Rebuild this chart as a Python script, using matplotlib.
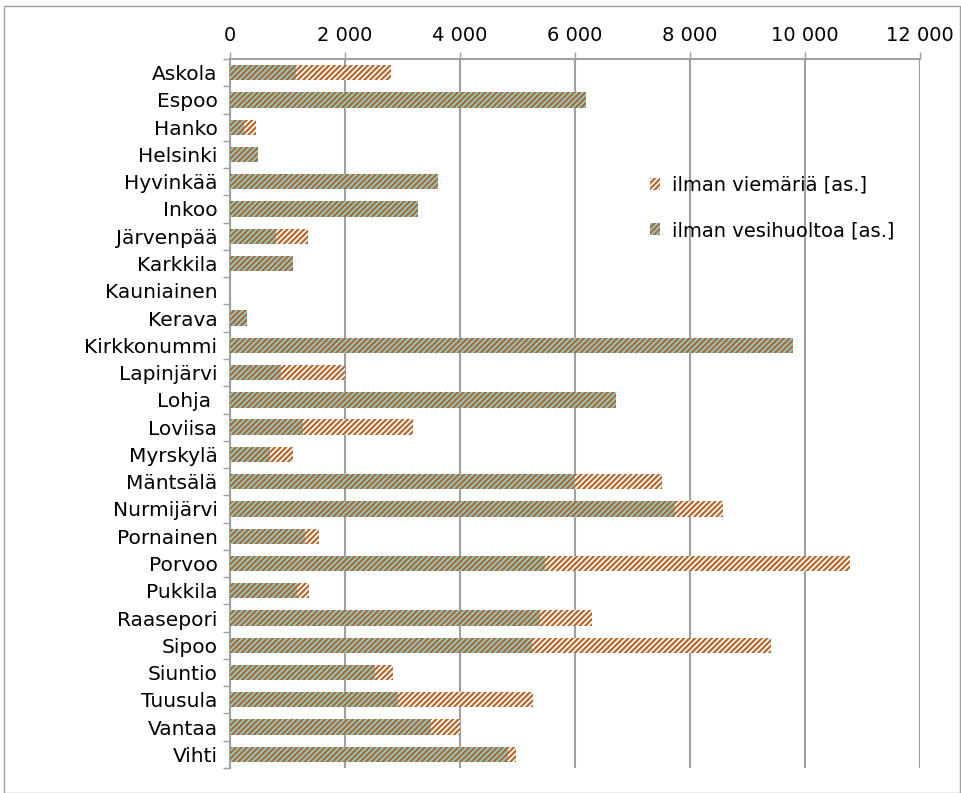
import matplotlib
matplotlib.use('Agg')
import matplotlib.pyplot as plt
import matplotlib.patches as mpatches
from matplotlib.ticker import FuncFormatter, FixedLocator

plt.rcParams['font.family'] = ['DejaVu Sans']
plt.rcParams['hatch.linewidth'] = 1.6

kunnat = ['Askola', 'Espoo', 'Hanko', 'Helsinki', 'Hyvinkää', 'Inkoo', 'Järvenpää',
          'Karkkila', 'Kauniainen', 'Kerava', 'Kirkkonummi', 'Lapinjärvi', 'Lohja ',
          'Loviisa', 'Myrskylä', 'Mäntsälä', 'Nurmijärvi', 'Pornainen', 'Porvoo',
          'Pukkila', 'Raasepori', 'Sipoo', 'Siuntio', 'Tuusula', 'Vantaa', 'Vihti']
ilman_viemaria = [2800, 6200, 450, 490, 3620, 3270, 1360, 1100, 0, 300, 9800, 2000,
                  6710, 3190, 1090, 7510, 8570, 1540, 10780, 1370, 6300, 9410, 2830,
                  5270, 4000, 4970]
ilman_vesihuoltoa = [1150, 6200, 250, 490, 3620, 3270, 800, 1100, 0, 300, 9800, 880,
                     6710, 1270, 690, 6000, 7740, 1300, 5480, 1170, 5390, 5250, 2520,
                     2920, 3500, 4840]
xticks = [0, 2000, 4000, 6000, 8000, 10000, 12000]

ORANGE = '#B5682C'
CYAN = '#80D3D9'
GRID = '#A0A0A0'

W, H = 962, 793
fig = plt.figure(figsize=(W / 100, H / 100), dpi=100)
ax = fig.add_axes([230 / W, 1 - 768 / H, 690 / W, 709 / H])

# outer chart border
fig.patches.append(mpatches.Rectangle((4 / W, 0), 956 / W, 1 - 6 / H,
                                      transform=fig.transFigure, fill=False,
                                      edgecolor='#A0A0A0', lw=1.0))

y = list(range(len(kunnat)))
b1 = ax.barh(y, ilman_viemaria, height=0.56, color='white', edgecolor=ORANGE,
             hatch='//////', lw=0, zorder=3, label='ilman viemäriä [as.]')
b2 = ax.barh(y, ilman_vesihuoltoa, height=0.56, color=CYAN, edgecolor=ORANGE,
             hatch='//////', lw=0, zorder=4, label='ilman vesihuoltoa [as.]')

ax.set_xlim(0, 12000)
ax.set_ylim(len(kunnat) - 0.5, -0.5)
ax.xaxis.tick_top()
ax.set_xticks(xticks)
ax.xaxis.set_major_formatter(FuncFormatter(lambda v, p: f'{int(v):,}'.replace(',', ' ')))
ax.tick_params(axis='x', length=5, color=GRID, width=1, pad=5, labelsize=14)

ax.set_yticks(y)
ax.set_yticklabels(kunnat, fontsize=14.5)
ax.yaxis.set_minor_locator(FixedLocator([i - 0.5 for i in range(len(kunnat) + 1)]))
ax.tick_params(axis='y', which='major', length=0, pad=9)
ax.tick_params(axis='y', which='minor', length=5, color=GRID, width=1)

ax.grid(axis='x', color=GRID, lw=1.5, zorder=0)
ax.set_axisbelow(True)
for s in ['right', 'bottom']:
    ax.spines[s].set_visible(False)
for s in ['top', 'left']:
    ax.spines[s].set_color(GRID)
    ax.spines[s].set_linewidth(1.5)

ax.legend(handles=[b1, b2], loc='upper left', bbox_to_anchor=(0.583, 0.86),
          frameon=False, fontsize=14, handlelength=0.55, handleheight=0.55,
          handletextpad=0.6, labelspacing=1.35)

fig.savefig('out.png', dpi=100)
